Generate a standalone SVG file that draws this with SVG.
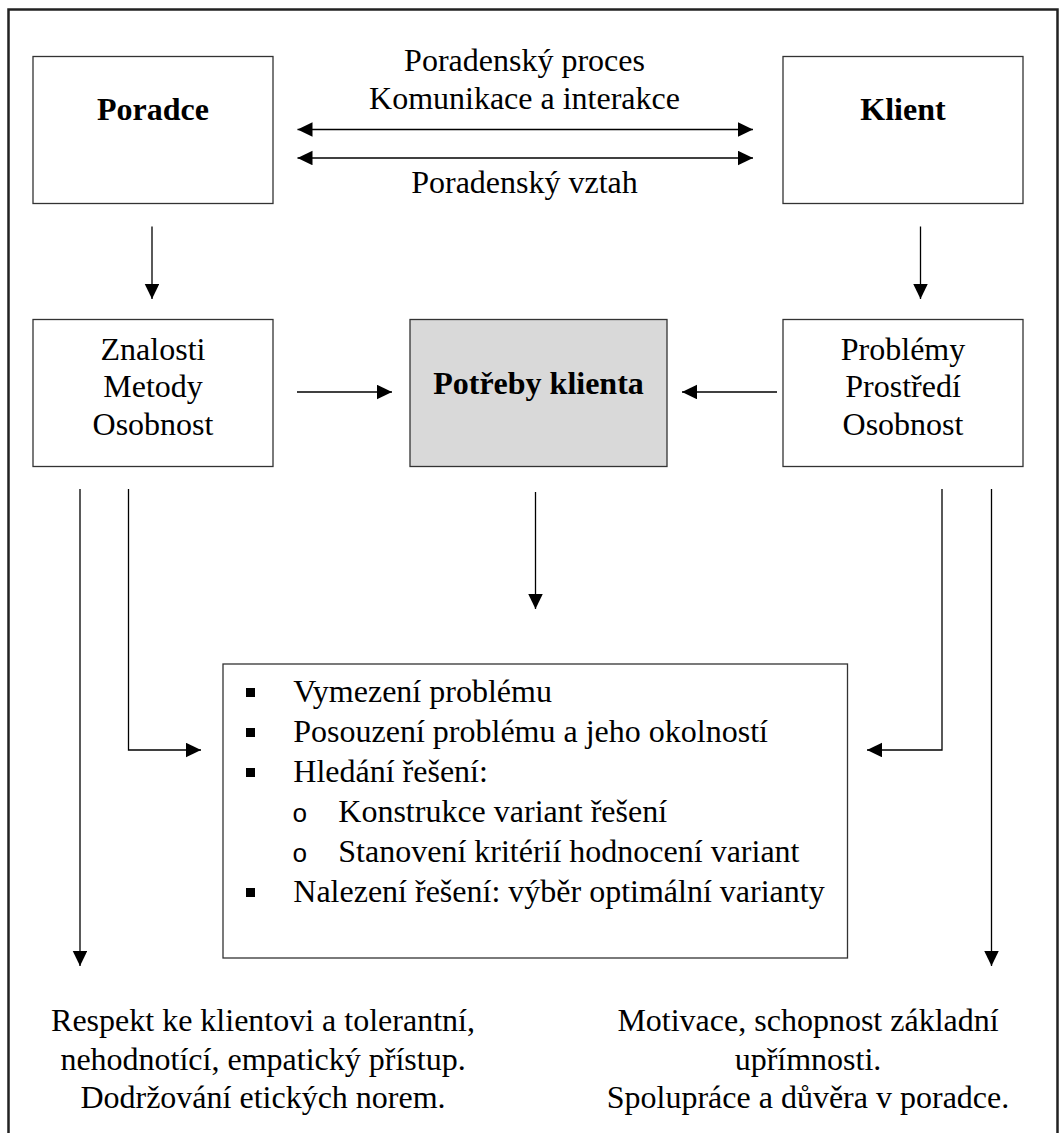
<svg xmlns="http://www.w3.org/2000/svg" width="1060" height="1133" viewBox="0 0 1060 1133">
<style>
.box{fill:#fff;stroke:#333;stroke-width:1.3}
.gray{fill:#d9d9d9}
.t{font-family:"Liberation Serif","Times New Roman",serif;font-size:32px;fill:#000}
.b{font-weight:bold}
.c{text-anchor:middle}
.conn{fill:none;stroke:#000;stroke-width:1.3}
.frame{fill:none;stroke:#222;stroke-width:2.5}
</style>
<defs>
<marker id="ah" markerUnits="userSpaceOnUse" markerWidth="16" markerHeight="15" refX="15" refY="7.25" orient="auto-start-reverse">
<path d="M0,0 L15,7.25 L0,14.5 z" fill="#000"/>
</marker>
</defs>
<rect width="1060" height="1133" fill="#fff"/>
<path class="frame" d="M8.5,1133 V9.5 H1057.5 V1133"/>

<g id="poradce">
<rect class="box" x="33" y="56.5" width="240" height="147"/>
<text class="t b c" x="153" y="120">Poradce</text>
</g>
<g id="klient">
<rect class="box" x="783" y="56.5" width="240" height="147"/>
<text class="t b c" x="903" y="120">Klient</text>
</g>
<g id="proces-labels">
<text class="t c" x="524.5" y="71">Poradenský proces</text>
<text class="t c" x="524.5" y="109">Komunikace a interakce</text>
<text class="t c" x="524.5" y="193">Poradenský vztah</text>
</g>
<g id="znalosti">
<rect class="box" x="33" y="319.5" width="240" height="147"/>
<text class="t c" x="153" y="359.5">Znalosti</text>
<text class="t c" x="153" y="397">Metody</text>
<text class="t c" x="153" y="434.5">Osobnost</text>
</g>
<g id="potreby">
<rect class="box gray" x="410" y="319.5" width="257" height="147"/>
<text class="t b c" x="538.5" y="394">Potřeby klienta</text>
</g>
<g id="problemy">
<rect class="box" x="783" y="319.5" width="240" height="147"/>
<text class="t c" x="903" y="359.5">Problémy</text>
<text class="t c" x="903" y="397">Prostředí</text>
<text class="t c" x="903" y="434.5">Osobnost</text>
</g>
<g id="postup">
<rect class="box" x="223" y="664" width="624.5" height="294"/>
<rect x="246" y="688" width="9" height="9" fill="#000"/>
<rect x="246" y="728" width="9" height="9" fill="#000"/>
<rect x="246" y="768" width="9" height="9" fill="#000"/>
<rect x="246" y="888" width="9" height="9" fill="#000"/>
<text class="t" x="293.3" y="702">Vymezení problému</text>
<text class="t" x="293.3" y="742">Posouzení problému a jeho okolností</text>
<text class="t" x="293.3" y="782">Hledání řešení:</text>
<text class="t" x="292" y="822" style="font-family:'Liberation Mono','Courier New',monospace;font-size:26px">o</text>
<text class="t" x="338.3" y="822">Konstrukce variant řešení</text>
<text class="t" x="292" y="862" style="font-family:'Liberation Mono','Courier New',monospace;font-size:26px">o</text>
<text class="t" x="338.3" y="862">Stanovení kritérií hodnocení variant</text>
<text class="t" x="293.3" y="902">Nalezení řešení: výběr optimální varianty</text>
</g>
<g id="poradce-postoj">
<text class="t c" x="263" y="1031">Respekt ke klientovi a tolerantní,</text>
<text class="t c" x="263" y="1069.5">nehodnotící, empatický přístup.</text>
<text class="t c" x="263" y="1108">Dodržování etických norem.</text>
</g>
<g id="klient-postoj">
<text class="t c" x="808" y="1031">Motivace, schopnost základní</text>
<text class="t c" x="808" y="1069.5">upřímnosti.</text>
<text class="t c" x="808" y="1108">Spolupráce a důvěra v poradce.</text>
</g>

<g id="connectors">
<path class="conn" d="M297.5,129.5 H753" marker-start="url(#ah)" marker-end="url(#ah)"/>
<path class="conn" d="M297.5,158 H753" marker-start="url(#ah)" marker-end="url(#ah)"/>
<path class="conn" d="M152,226.5 V299" marker-end="url(#ah)"/>
<path class="conn" d="M920.5,226.5 V299" marker-end="url(#ah)"/>
<path class="conn" d="M297,392 H392" marker-end="url(#ah)"/>
<path class="conn" d="M777,392 H682" marker-end="url(#ah)"/>
<path class="conn" d="M535.5,492 V609" marker-end="url(#ah)"/>
<path class="conn" d="M80,489 V966" marker-end="url(#ah)"/>
<path class="conn" d="M128.5,489 V750 H201" marker-end="url(#ah)"/>
<path class="conn" d="M942,489 V750 H867" marker-end="url(#ah)"/>
<path class="conn" d="M991.5,489 V966" marker-end="url(#ah)"/>
</g>
</svg>
